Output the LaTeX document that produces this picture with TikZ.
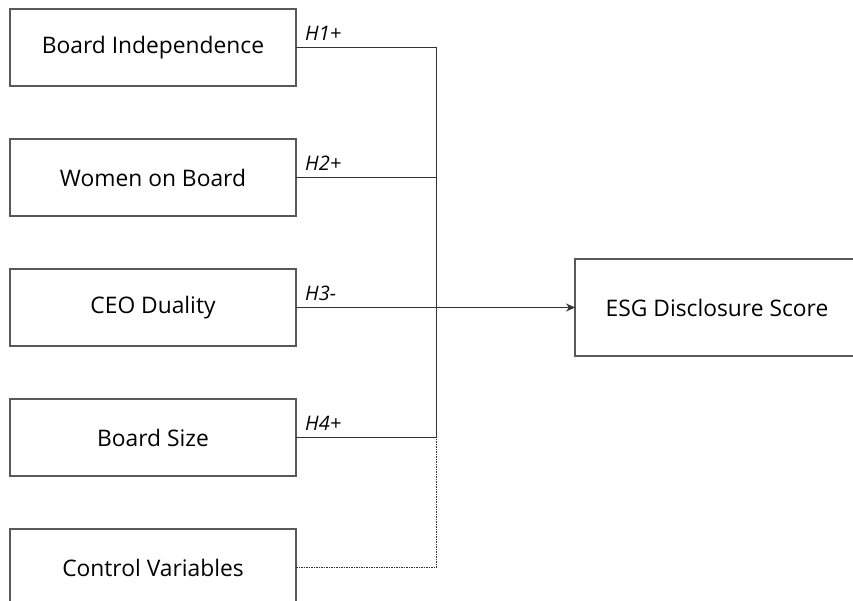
\documentclass[tikz,border=0pt]{standalone}
\usepackage{fontspec}
\setmainfont{Open Sans}
\usetikzlibrary{arrows.meta, positioning}

\begin{document}
\begin{tikzpicture}[
            x=1pt, y=-1pt,
            node distance=53pt and 279pt,
            box/.style={draw=black!65, line width=1.1pt, outer sep=0pt, minimum width=286pt, minimum height=77pt, align=center, font=\fontsize{22.8}{26}\selectfont, inner sep=0pt},
            hyp/.style={font=\fontsize{20}{24}\selectfont\itshape, anchor=south west, inner sep=0pt},
            link/.style={draw=black!80, line width=0.9pt}
        ]
        \useasboundingbox (0,0) rectangle (853,600);

        % Nodes
        \node[box] (BI) at (153,47.5) {Board Independence};
        \node[box, below=of BI] (WB) {Women on Board};
        \node[box, below=of WB] (CEO) {CEO Duality};
        \node[box, below=of CEO] (BS) {Board Size};
        \node[box, below=of BS] (CV) {Control Variables};
        \node[box, right=of CEO, minimum width=284pt, minimum height=97pt] (ESG) {ESG Disclosure Score};

        % Junction
        \coordinate (jx) at (436,0);
        \coordinate (top) at (BI.east -| jx);
        \coordinate (bot) at (BS.east -| jx);

        % Arrows
        \draw[link] (BI.east) -- (top) -- (bot);
        \draw[link] (WB.east) -- (WB.east -| jx);
        \draw[link] (BS.east) -- (bot);
        \draw[link, -{Stealth[length=9pt, width=8pt]}] (CEO.east) -- (ESG.west);
        \draw[link, dash pattern=on 1.5pt off 1pt] (CV.east) -| (bot);

        % Hypotheses
        \node[hyp] (H1) at ([shift={(9,-7)}]BI.east) {H1+};
        \node[hyp] (H2) at ([shift={(9,-7)}]WB.east) {H2+};
        \node[hyp] (H3) at ([shift={(9,-7)}]CEO.east) {H3-};
        \node[hyp] (H4) at ([shift={(9,-7)}]BS.east) {H4+};
\end{tikzpicture}
\end{document}
